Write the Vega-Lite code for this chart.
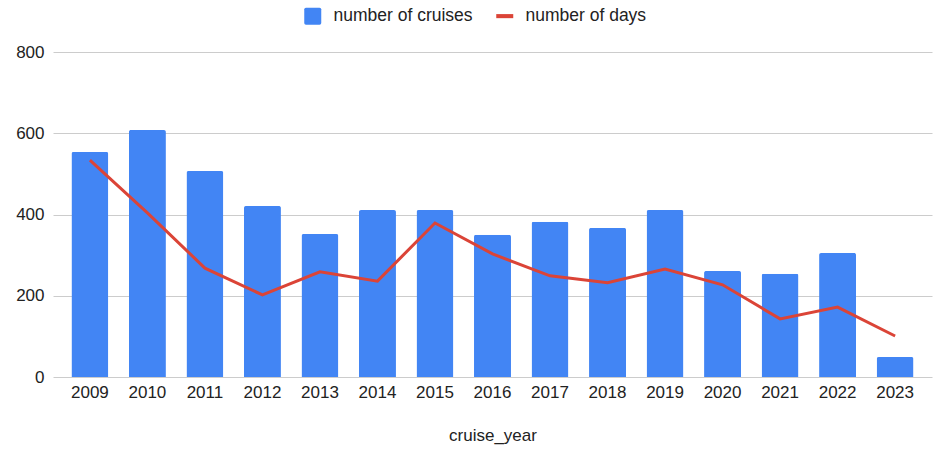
{
  "$schema": "https://vega.github.io/schema/vega-lite/v6.json",
  "autosize": {"type": "none"},
  "width": 879,
  "height": 325,
  "padding": {"left": 53, "top": 52, "right": 2, "bottom": 72},
  "background": "white",
  "config": {
    "font": "Liberation Sans",
    "view": {"stroke": null},
    "axis": {"labelFont": "Liberation Sans", "titleFont": "Liberation Sans", "labelColor": "#222222", "titleColor": "#222222"}
  },
  "data": {
    "values": [
      {"cruise_year": "2009", "cruises": 554, "days": 534},
      {"cruise_year": "2010", "cruises": 608, "days": 404},
      {"cruise_year": "2011", "cruises": 507, "days": 268},
      {"cruise_year": "2012", "cruises": 421, "days": 202},
      {"cruise_year": "2013", "cruises": 352, "days": 259},
      {"cruise_year": "2014", "cruises": 411, "days": 236},
      {"cruise_year": "2015", "cruises": 411, "days": 379},
      {"cruise_year": "2016", "cruises": 350, "days": 303},
      {"cruise_year": "2017", "cruises": 382, "days": 249},
      {"cruise_year": "2018", "cruises": 367, "days": 232},
      {"cruise_year": "2019", "cruises": 411, "days": 266},
      {"cruise_year": "2020", "cruises": 261, "days": 227},
      {"cruise_year": "2021", "cruises": 254, "days": 143},
      {"cruise_year": "2022", "cruises": 305, "days": 172},
      {"cruise_year": "2023", "cruises": 49, "days": 101}
    ]
  },
  "encoding": {
    "x": {
      "field": "cruise_year",
      "type": "ordinal",
      "scale": {"paddingInner": 0.357, "paddingOuter": 0.32},
      "axis": {
        "title": "cruise_year",
        "labelAngle": 0,
        "labelFontSize": 17,
        "titleFontSize": 17,
        "titleFontWeight": "normal",
        "labelPadding": 7,
        "titlePadding": 27,
        "ticks": false,
        "domain": false
      }
    }
  },
  "layer": [
    {
      "mark": {"type": "bar", "cornerRadiusTopLeft": 2, "cornerRadiusTopRight": 2},
      "encoding": {
        "y": {
          "field": "cruises",
          "type": "quantitative",
          "scale": {"domain": [0, 800]},
          "axis": {
            "title": null,
            "values": [0, 200, 400, 600, 800],
            "labelFontSize": 17,
            "labelPadding": 9,
            "ticks": false,
            "domain": false,
            "gridColor": "#cccccc",
            "gridWidth": 1
          }
        },
        "color": {
          "datum": "number of cruises",
          "scale": {"domain": ["number of cruises", "number of days"], "range": ["#4285F4", "#DB4437"]},
          "legend": {
            "title": null,
            "orient": "none",
            "direction": "horizontal",
            "legendX": 251,
            "legendY": -45,
            "labelFontSize": 17.5,
            "labelColor": "#222222",
            "symbolSize": 289,
            "columnPadding": 23,
            "labelOffset": 12,
            "encode": {
              "symbols": {
                "update": {
                  "shape": {"signal": "datum.value == 'number of days' ? 'M-1,-0.24H1V0.24H-1Z' : 'M-0.8,-1H0.8Q1,-1 1,-0.8V0.8Q1,1 0.8,1H-0.8Q-1,1 -1,0.8V-0.8Q-1,-1 -0.8,-1Z'"},
                  "fill": {"signal": "datum.value == 'number of days' ? '#DB4437' : '#4285F4'"},
                  "stroke": {"value": null},
                  "strokeWidth": {"value": 0},
                  "opacity": {"value": 1},
                  "fillOpacity": {"value": 1}
                }
              }
            }
          }
        }
      }
    },
    {
      "mark": {"type": "line", "strokeWidth": 3},
      "encoding": {
        "y": {"field": "days", "type": "quantitative"},
        "color": {"datum": "number of days"}
      }
    },
    {
      "mark": {"type": "rule", "color": "#333333", "strokeWidth": 1},
      "encoding": {"y": {"datum": 0}}
    }
  ]
}
